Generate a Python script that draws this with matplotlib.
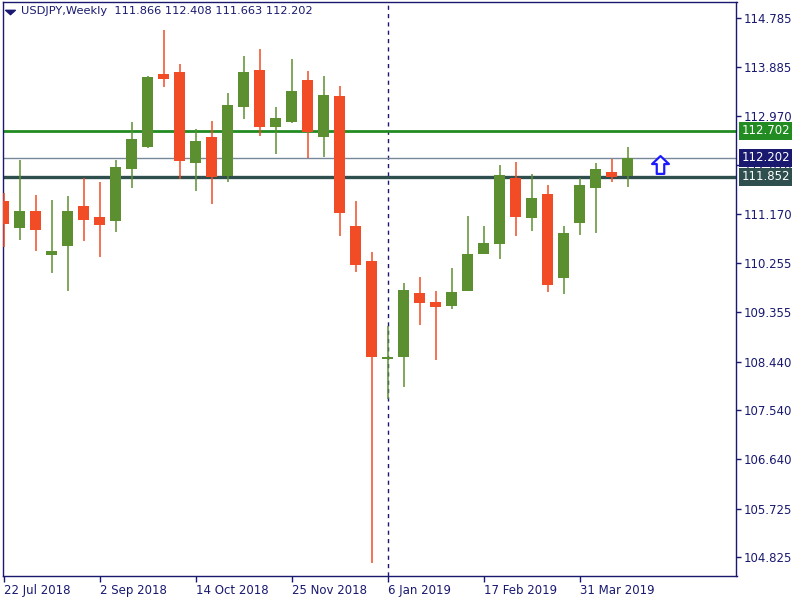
import matplotlib
matplotlib.use("Agg")
import matplotlib.pyplot as plt
from matplotlib.path import Path

# weekly USDJPY candles, week of 22 Jul 2018 onwards
opens = [111.405, 110.912, 111.221, 110.414, 110.580, 111.313, 111.110, 111.042, 112.002, 112.408,
         113.751, 113.788, 112.113, 112.587, 111.873, 113.147, 113.825, 112.778, 112.870, 113.640,
         112.593, 113.345, 110.944, 110.298, 108.493, 108.530, 109.707, 109.540, 109.472, 109.749,
         110.432, 110.617, 111.830, 111.097, 111.535, 109.989, 111.005, 111.651, 111.941, 111.866]
highs = [111.559, 112.163, 111.516, 111.424, 111.498, 111.836, 111.762, 112.163, 112.864, 113.714,
         114.563, 113.936, 112.735, 112.883, 113.400, 114.083, 114.213, 113.141, 114.028, 113.806,
         113.714, 113.529, 111.405, 110.464, 109.097, 109.891, 110.002, 109.744, 110.168, 111.129,
         110.944, 112.070, 112.126, 111.904, 111.701, 110.944, 111.836, 112.107, 112.181, 112.408]
lows = [110.562, 110.691, 110.488, 110.082, 109.749, 110.672, 110.377, 110.839, 111.651, 112.384,
        113.516, 111.817, 111.596, 111.356, 111.762, 112.925, 112.611, 112.279, 112.852, 112.205,
        112.224, 110.765, 110.100, 104.726, 107.749, 107.976, 109.121, 108.475, 109.417, 109.740,
        110.425, 110.340, 110.765, 110.857, 109.731, 109.694, 110.783, 110.820, 111.762, 111.663]
closes = [110.986, 111.221, 110.876, 110.482, 111.221, 111.060, 110.968, 112.033, 112.551, 113.695,
          113.659, 112.150, 112.514, 111.854, 113.178, 113.788, 112.778, 112.938, 113.437, 112.685,
          113.363, 111.190, 110.229, 108.530, 108.525, 109.762, 109.527, 109.454, 109.725, 110.427,
          110.630, 111.886, 111.116, 111.461, 109.860, 110.815, 111.701, 111.997, 111.854, 112.202]

date_ticks = [0, 6, 12, 18, 24, 30, 36]
date_labels = ["22 Jul 2018", "2 Sep 2018", "14 Oct 2018", "25 Nov 2018",
               "6 Jan 2019", "17 Feb 2019", "31 Mar 2019"]
price_ticks = [114.785, 113.885, 112.970, 112.070, 111.170, 110.255,
               109.355, 108.440, 107.540, 106.640, 105.725, 104.825]

resistance = 112.702
support = 111.852
bid = 112.202
arrow_index = 41
arrow_price = 112.098
separator_index = 24

NAVY = "#191970"
UP = "#5b8f2f"
DOWN = "#f24c27"
FONT = 8.5

fig = plt.figure(figsize=(8, 6), dpi=100)
ax = fig.add_axes([2.7 / 800, 1 - 576 / 600, 733.8 / 800, 574.5 / 600])

x = list(range(len(opens)))
for i in x:
    o, h, l, c = opens[i], highs[i], lows[i], closes[i]
    col = UP if c >= o else DOWN
    ax.vlines(i, l, h, color=col, lw=1.1, zorder=3)
    ax.bar(i, max(abs(c - o), 0.02), bottom=min(o, c), width=0.69, color=col,
           linewidth=0, zorder=4)

ax.axhline(resistance, color="#228b22", lw=2, zorder=2)
ax.axhline(bid, color="#778899", lw=1, zorder=2)
ax.axhline(support, color="#2f4f4f", lw=2.4, zorder=2)
ax.axvline(separator_index, color=NAVY, lw=1, ls=(0, (3, 3)), zorder=1)

# up arrow marker
arrow = Path([(-0.4, -1), (0.4, -1), (0.4, 0.05), (0.9, 0.05), (0, 0.9), (-0.9, 0.05),
              (-0.4, 0.05), (-0.4, -1)],
             [Path.MOVETO] + [Path.LINETO] * 6 + [Path.CLOSEPOLY])
ax.plot(arrow_index, arrow_price, marker=arrow, markersize=13.5, mfc="white",
        mec="#1a1aff", mew=1.6, zorder=5)

ax.set_xlim(-0.05, 45.81)
ax.set_ylim(104.48, 115.09)

for s in ax.spines.values():
    s.set_color(NAVY)
    s.set_linewidth(1)

ax.yaxis.tick_right()
ax.set_yticks(price_ticks)
ax.set_yticklabels(["%.3f" % p for p in price_ticks])
ax.tick_params(axis="y", direction="out", length=3.5, width=1, color=NAVY,
               labelcolor=NAVY, labelsize=FONT, pad=2)

ax.set_xticks(date_ticks)
ax.set_xticklabels(date_labels)
ax.tick_params(axis="x", direction="out", length=4, width=1, color=NAVY,
               labelcolor=NAVY, labelsize=FONT, pad=2)
for lab in ax.get_xticklabels():
    lab.set_ha("left")

# price tags on the right scale
trans = ax.get_yaxis_transform()
for val, col in [(resistance, "#228b22"), (bid, NAVY), (support, "#2f4f4f")]:
    ax.text(1.0065, val, "%.3f" % val, transform=trans, color="white", fontsize=FONT,
            va="center", ha="left", clip_on=False, zorder=10,
            bbox=dict(boxstyle="square,pad=0.2", fc=col, ec="none"))

tri = Path([(-1, 0.45), (1, 0.45), (0, -0.45), (-1, 0.45)],
           [Path.MOVETO, Path.LINETO, Path.LINETO, Path.CLOSEPOLY])
ax.plot(0.0106, 0.9817, marker=tri, markersize=7, color=NAVY, transform=ax.transAxes,
        clip_on=False)
ax.text(0.025, 0.9835, "USDJPY,Weekly  111.866 112.408 111.663 112.202",
        transform=ax.transAxes, color=NAVY, fontsize=8.2, va="center", ha="left")

fig.savefig("out.png", dpi=100)
